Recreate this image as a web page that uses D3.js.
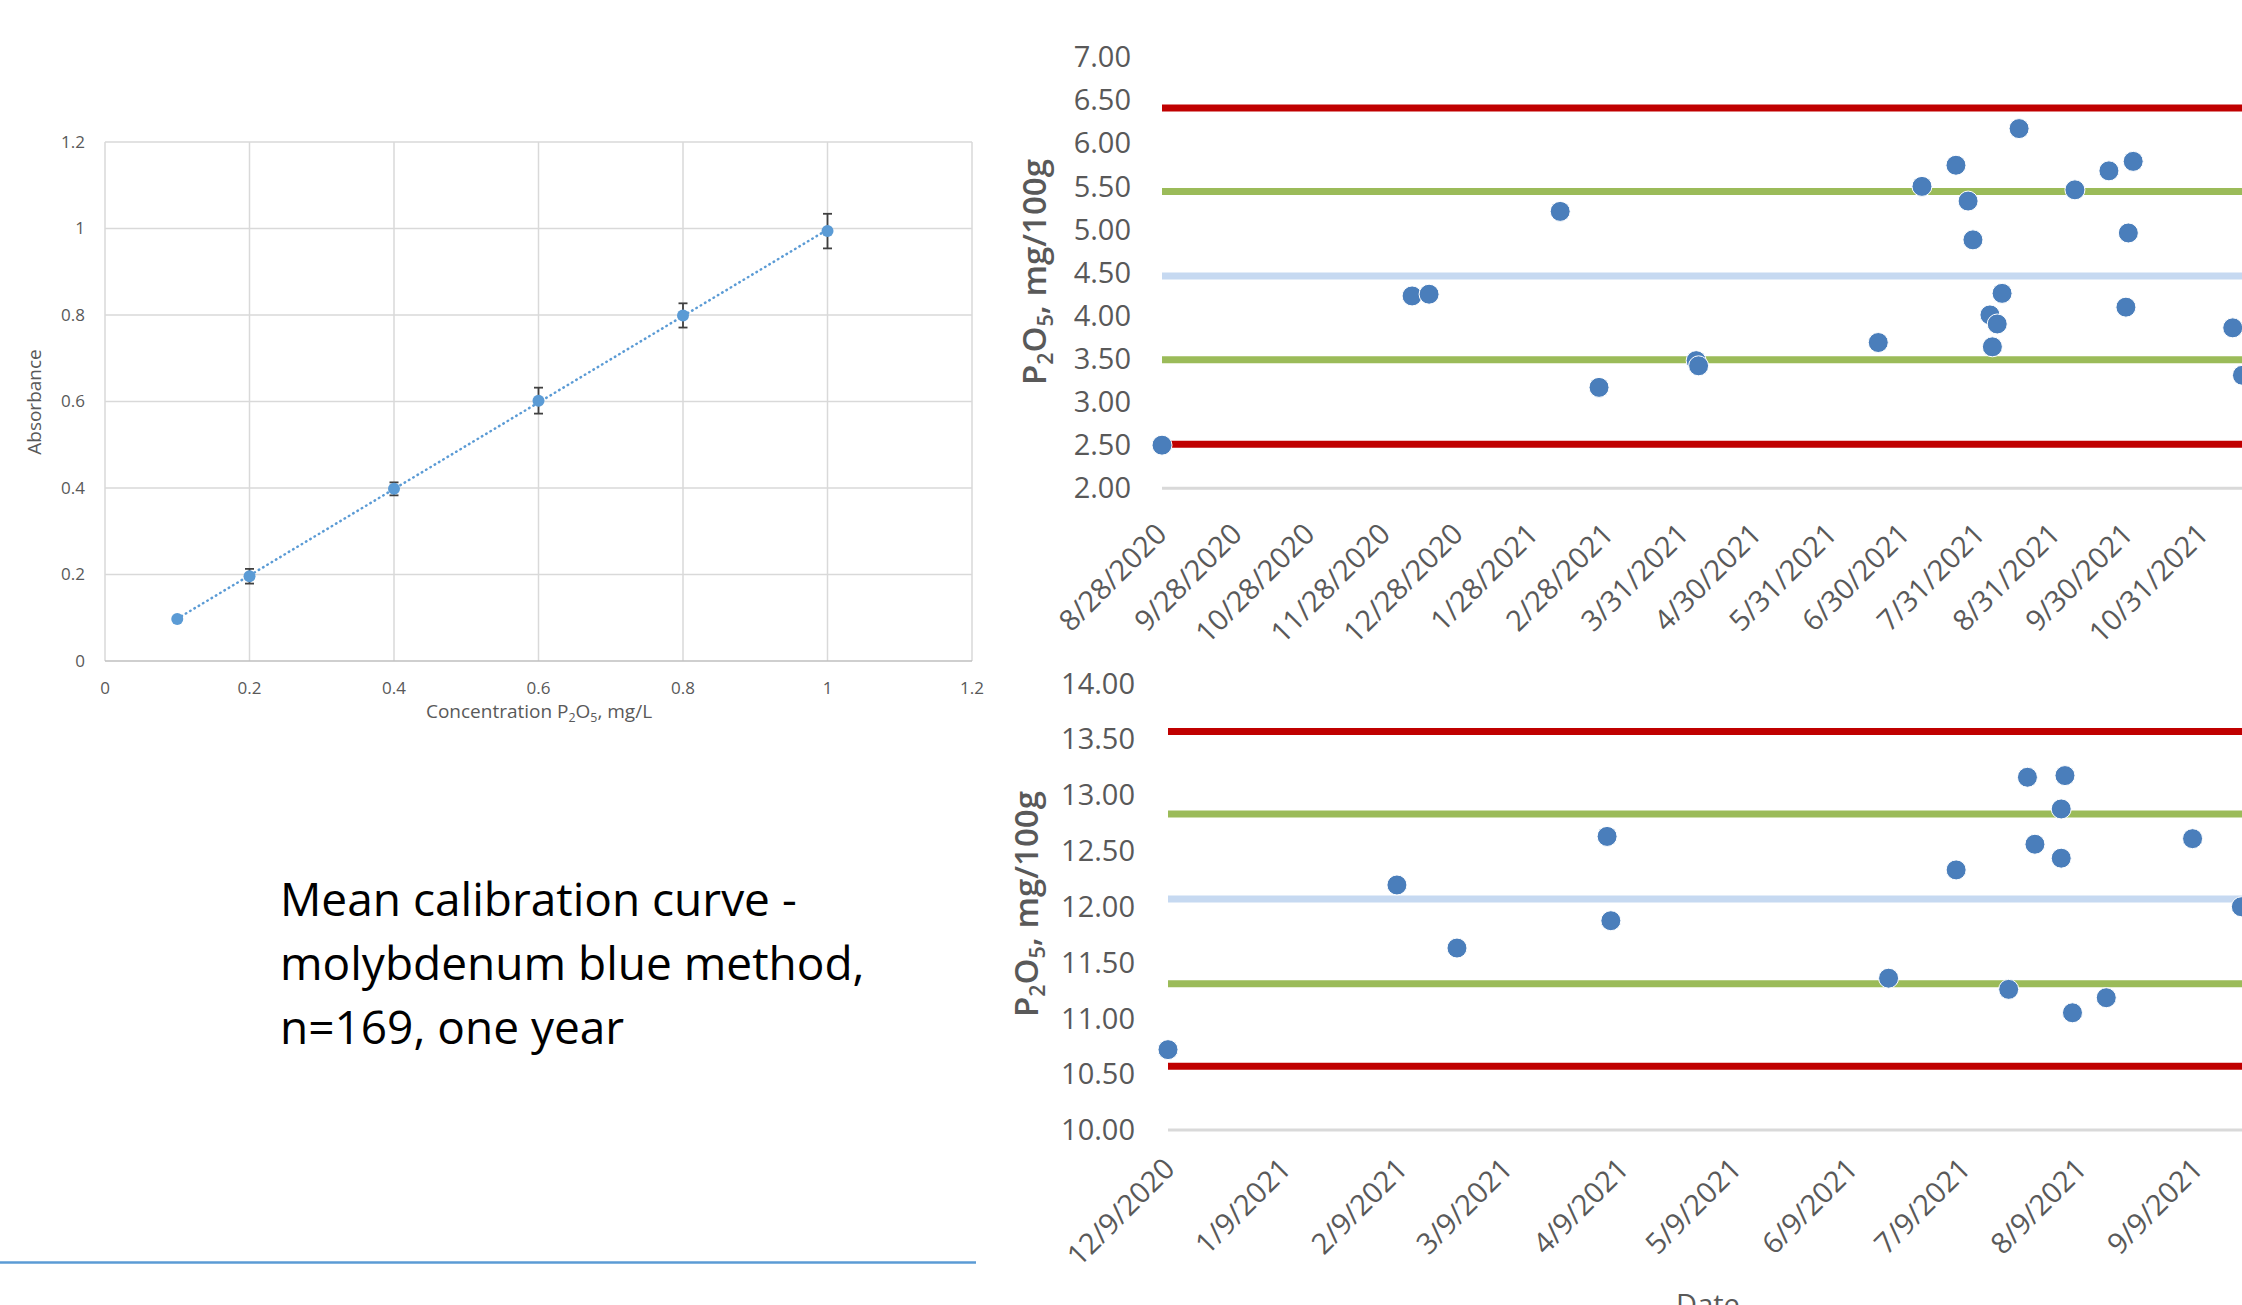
<html>
<script src="https://d3js.org/d3.v7.min.js"></script>
<style>
    body {
        margin: 0;
        background: #fff;
    }
    text {
        font-family: "Open Sans", sans-serif;
    }
    .calTick {
        fill: #595959;
        font-size: 17px;
    }
    .calTitle {
        fill: #595959;
        font-size: 19px;
    }
    .ccTick {
        fill: #595959;
        font-size: 29px;
    }
    .ccTitle {
        fill: #595959;
        font-size: 33px;
        font-weight: 600;
    }
    .note {
        fill: #000;
        font-size: 46px;
    }
</style>

<body>
    <svg id="page" width="2242" height="1305"></svg>
    <script>
        // calibration curve (left)
        var calibConc = [0.1, 0.2, 0.4, 0.6, 0.8, 1.0];
        var calibAbs = [0.097, 0.196, 0.398, 0.602, 0.799, 0.994];
        var calibErr = [0.004, 0.017, 0.015, 0.030, 0.028, 0.040];
        var calibTicks = [0, 0.2, 0.4, 0.6, 0.8, 1, 1.2];

        // control chart, top
        var topDates = ["8/28/2020", "12/9/2020", "12/16/2020", "2/8/2021", "2/24/2021", "4/5/2021", "4/6/2021",
            "6/19/2021", "7/7/2021", "7/21/2021", "7/26/2021", "7/28/2021", "8/4/2021", "8/5/2021", "8/7/2021",
            "8/9/2021", "8/16/2021", "9/8/2021", "9/22/2021", "9/29/2021", "9/30/2021", "10/2/2021",
            "11/12/2021", "11/16/2021"];
        var topValues = [2.50, 4.23, 4.25, 5.21, 3.17, 3.48, 3.42,
            3.69, 5.50, 5.745, 5.33, 4.88, 4.01, 3.64, 3.905,
            4.26, 6.17, 5.46, 5.68, 4.10, 4.96, 5.79,
            3.86, 3.31];
        var topLimits = [6.41, 5.44, 4.46, 3.49, 2.51];
        var topYTicks = [2, 2.5, 3, 3.5, 4, 4.5, 5, 5.5, 6, 6.5, 7];
        var topTickDates = ["8/28/2020", "9/28/2020", "10/28/2020", "11/28/2020", "12/28/2020", "1/28/2021",
            "2/28/2021", "3/31/2021", "4/30/2021", "5/31/2021", "6/30/2021", "7/31/2021", "8/31/2021",
            "9/30/2021", "10/31/2021"];

        // control chart, bottom
        var bottomDates = ["12/9/2020", "2/8/2021", "2/24/2021", "4/5/2021", "4/6/2021", "6/19/2021", "7/7/2021",
            "7/21/2021", "7/26/2021", "7/28/2021", "8/4/2021", "8/4/2021", "8/5/2021", "8/7/2021", "8/16/2021",
            "9/8/2021", "9/21/2021"];
        var bottomValues = [10.72, 12.195, 11.63, 12.63, 11.875, 11.36, 12.33,
            11.26, 13.16, 12.56, 12.876, 12.435, 13.175, 11.05, 11.185,
            12.61, 12.00];
        var bottomLimits = [13.57, 12.83, 12.07, 11.31, 10.57];
        var bottomYTicks = [10, 10.5, 11, 11.5, 12, 12.5, 13, 13.5, 14];
        var bottomTickDates = ["12/9/2020", "1/9/2021", "2/9/2021", "3/9/2021", "4/9/2021", "5/9/2021",
            "6/9/2021", "7/9/2021", "8/9/2021", "9/9/2021"];

        var limitKinds = ["action", "warning", "mean", "warning", "action"];
        var noteLines = ["Mean calibration curve -", "molybdenum blue method,", "n=169, one year"];

        var limitColor = { action: "#C00000", warning: "#9BBB59", mean: "#C6D9F1" };
        var parseDate = d3.timeParse("%m/%d/%Y");

        var svg = d3.select("#page");

        // text with chemical subscripts, parts: [string, isSub]
        function chemText(sel, parts, size) {
            var wasSub = false;
            parts.forEach(function (p) {
                var t = sel.append("tspan").text(p[0]);
                if (p[1]) {
                    t.attr("font-size", size * 0.65).attr("dy", size * 0.22);
                } else if (wasSub) {
                    t.attr("dy", -size * 0.22);
                }
                wasSub = p[1];
            });
        }

        function drawCalibration() {
            var g = svg.append("g");
            var x = d3.scaleLinear().domain([0, 1.2]).range([105, 972]);
            var y = d3.scaleLinear().domain([0, 1.2]).range([661, 142]);

            // grid
            g.selectAll(".vg").data(calibTicks).enter().append("line")
                .attr("x1", d => x(d)).attr("x2", d => x(d))
                .attr("y1", y(0)).attr("y2", y(1.2))
                .attr("stroke", "#D9D9D9").attr("stroke-width", 1.5);
            g.selectAll(".hg").data(calibTicks).enter().append("line")
                .attr("x1", x(0)).attr("x2", x(1.2))
                .attr("y1", d => y(d)).attr("y2", d => y(d))
                .attr("stroke", d => d == 0 ? "#BFBFBF" : "#D9D9D9").attr("stroke-width", 1.5);

            // tick labels
            g.selectAll(".yl").data(calibTicks).enter().append("text")
                .attr("class", "calTick")
                .attr("x", 85).attr("y", d => y(d)).attr("dy", "0.35em")
                .attr("text-anchor", "end")
                .text(d => d3.format("")(d));
            g.selectAll(".xl").data(calibTicks).enter().append("text")
                .attr("class", "calTick")
                .attr("x", d => x(d)).attr("y", 694)
                .attr("text-anchor", "middle")
                .text(d => d3.format("")(d));

            // axis titles
            var xt = g.append("text").attr("class", "calTitle")
                .attr("x", 539).attr("y", 718).attr("text-anchor", "middle");
            chemText(xt, [["Concentration P", false], ["2", true], ["O", false], ["5", true], [", mg/L", false]], 19);
            g.append("text").attr("class", "calTitle")
                .attr("transform", "translate(41," + 402 + ") rotate(-90)")
                .attr("text-anchor", "middle")
                .text("Absorbance");

            // linear trendline
            var n = calibConc.length;
            var mx = d3.mean(calibConc), my = d3.mean(calibAbs);
            var slope = d3.sum(calibConc, (c, i) => (c - mx) * (calibAbs[i] - my)) /
                d3.sum(calibConc, c => (c - mx) * (c - mx));
            var icpt = my - slope * mx;
            var ends = [calibConc[0], calibConc[n - 1]];
            g.append("path")
                .datum(ends)
                .attr("fill", "none")
                .attr("stroke", "#5B9BD5")
                .attr("stroke-width", 2.5)
                .attr("stroke-linecap", "round")
                .attr("stroke-dasharray", "0.5 4.5")
                .attr("d", d3.line().x(d => x(d)).y(d => y(slope * d + icpt)));

            // error bars
            var eb = g.selectAll(".eb").data(calibConc).enter().append("g");
            eb.append("line")
                .attr("x1", d => x(d)).attr("x2", d => x(d))
                .attr("y1", (d, i) => y(calibAbs[i] - calibErr[i]))
                .attr("y2", (d, i) => y(calibAbs[i] + calibErr[i]));
            eb.append("line")
                .attr("x1", d => x(d) - 4.5).attr("x2", d => x(d) + 4.5)
                .attr("y1", (d, i) => y(calibAbs[i] - calibErr[i]))
                .attr("y2", (d, i) => y(calibAbs[i] - calibErr[i]));
            eb.append("line")
                .attr("x1", d => x(d) - 4.5).attr("x2", d => x(d) + 4.5)
                .attr("y1", (d, i) => y(calibAbs[i] + calibErr[i]))
                .attr("y2", (d, i) => y(calibAbs[i] + calibErr[i]));
            eb.selectAll("line").attr("stroke", "#404040").attr("stroke-width", 1.8);

            g.selectAll(".pt").data(calibConc).enter().append("circle")
                .attr("cx", d => x(d))
                .attr("cy", (d, i) => y(calibAbs[i]))
                .attr("r", 6)
                .attr("fill", "#5B9BD5");
        }

        function drawControl(c) {
            var g = svg.append("g");
            var x = d3.scaleTime().domain([parseDate(c.xStart), parseDate(c.xEnd)]).range(c.xRange);
            var y = d3.scaleLinear().domain(c.yDomain).range(c.yRange);
            var x0 = c.xRange[0];

            if (c.background) {
                g.append("rect").attr("x", 1000).attr("y", c.background)
                    .attr("width", 1242).attr("height", 1305 - c.background).attr("fill", "#fff");
            }

            // baseline grid
            g.append("line")
                .attr("x1", x0).attr("x2", 2242)
                .attr("y1", y(c.yDomain[0])).attr("y2", y(c.yDomain[0]))
                .attr("stroke", "#D9D9D9").attr("stroke-width", 3);

            // y labels
            g.selectAll(".yl").data(c.yTicks).enter().append("text")
                .attr("class", "ccTick")
                .attr("x", c.labelX).attr("y", d => y(d)).attr("dy", "0.35em")
                .attr("text-anchor", "end")
                .text(d => d3.format(".2f")(d));

            // date labels
            var axisY = y(c.yDomain[0]);
            g.selectAll(".xl").data(c.tickDates).enter().append("text")
                .attr("class", "ccTick")
                .attr("text-anchor", "end")
                .attr("dominant-baseline", "middle")
                .attr("transform", d => "translate(" + (x(parseDate(d)) + c.labelDx) + "," + (axisY + c.labelDy) + ") rotate(-45)")
                .text(d => d);

            // y title
            var yt = g.append("text").attr("class", "ccTitle")
                .attr("text-anchor", "middle")
                .attr("transform", "translate(" + c.titleX + "," + c.titleY + ") rotate(-90)");
            chemText(yt, [["P", false], ["2", true], ["O", false], ["5", true], [", mg/100g", false]], 33);

            // control limits
            g.selectAll(".lim").data(c.limits).enter().append("line")
                .attr("x1", x0).attr("x2", 2242)
                .attr("y1", d => y(d)).attr("y2", d => y(d))
                .attr("stroke", (d, i) => limitColor[limitKinds[i]])
                .attr("stroke-width", 7);

            // points
            g.selectAll(".pt").data(c.dates).enter().append("circle")
                .attr("cx", d => x(parseDate(d)))
                .attr("cy", (d, i) => y(c.values[i]))
                .attr("r", 10)
                .attr("fill", "#4A7EBB")
                .attr("stroke", "#fff")
                .attr("stroke-width", 1);
            return g;
        }

        drawCalibration();

        // note text
        svg.append("g").selectAll("text").data(noteLines).enter().append("text")
            .attr("class", "note")
            .attr("x", 280)
            .attr("y", (d, i) => 916 + i * 64)
            .text(d => d);

        svg.append("line")
            .attr("x1", 0).attr("x2", 976)
            .attr("y1", 1262.5).attr("y2", 1262.5)
            .attr("stroke", "#5B9BD5").attr("stroke-width", 2.5);

        drawControl({
            dates: topDates, values: topValues, limits: topLimits,
            yTicks: topYTicks, tickDates: topTickDates,
            xStart: "8/28/2020", xEnd: "12/1/2021", xRange: [1162, 1162 + 460 * 2.428],
            yDomain: [2, 7], yRange: [488.3, 57],
            labelX: 1131, labelDx: 1, labelDy: 42,
            titleX: 1046, titleY: 272
        });

        var bottom = drawControl({
            dates: bottomDates, values: bottomValues, limits: bottomLimits,
            yTicks: bottomYTicks, tickDates: bottomTickDates,
            xStart: "12/9/2020", xEnd: "10/1/2021", xRange: [1168, 1168 + 296 * 3.753],
            yDomain: [10, 14], yRange: [1130, 683.5],
            labelX: 1135, labelDx: 3, labelDy: 35,
            titleX: 1038, titleY: 904,
            background: 651
        });

        bottom.append("text").attr("class", "ccTick")
            .attr("x", 1708).attr("y", 1315)
            .attr("text-anchor", "middle")
            .text("Date");
    </script>
</body>

</html>
